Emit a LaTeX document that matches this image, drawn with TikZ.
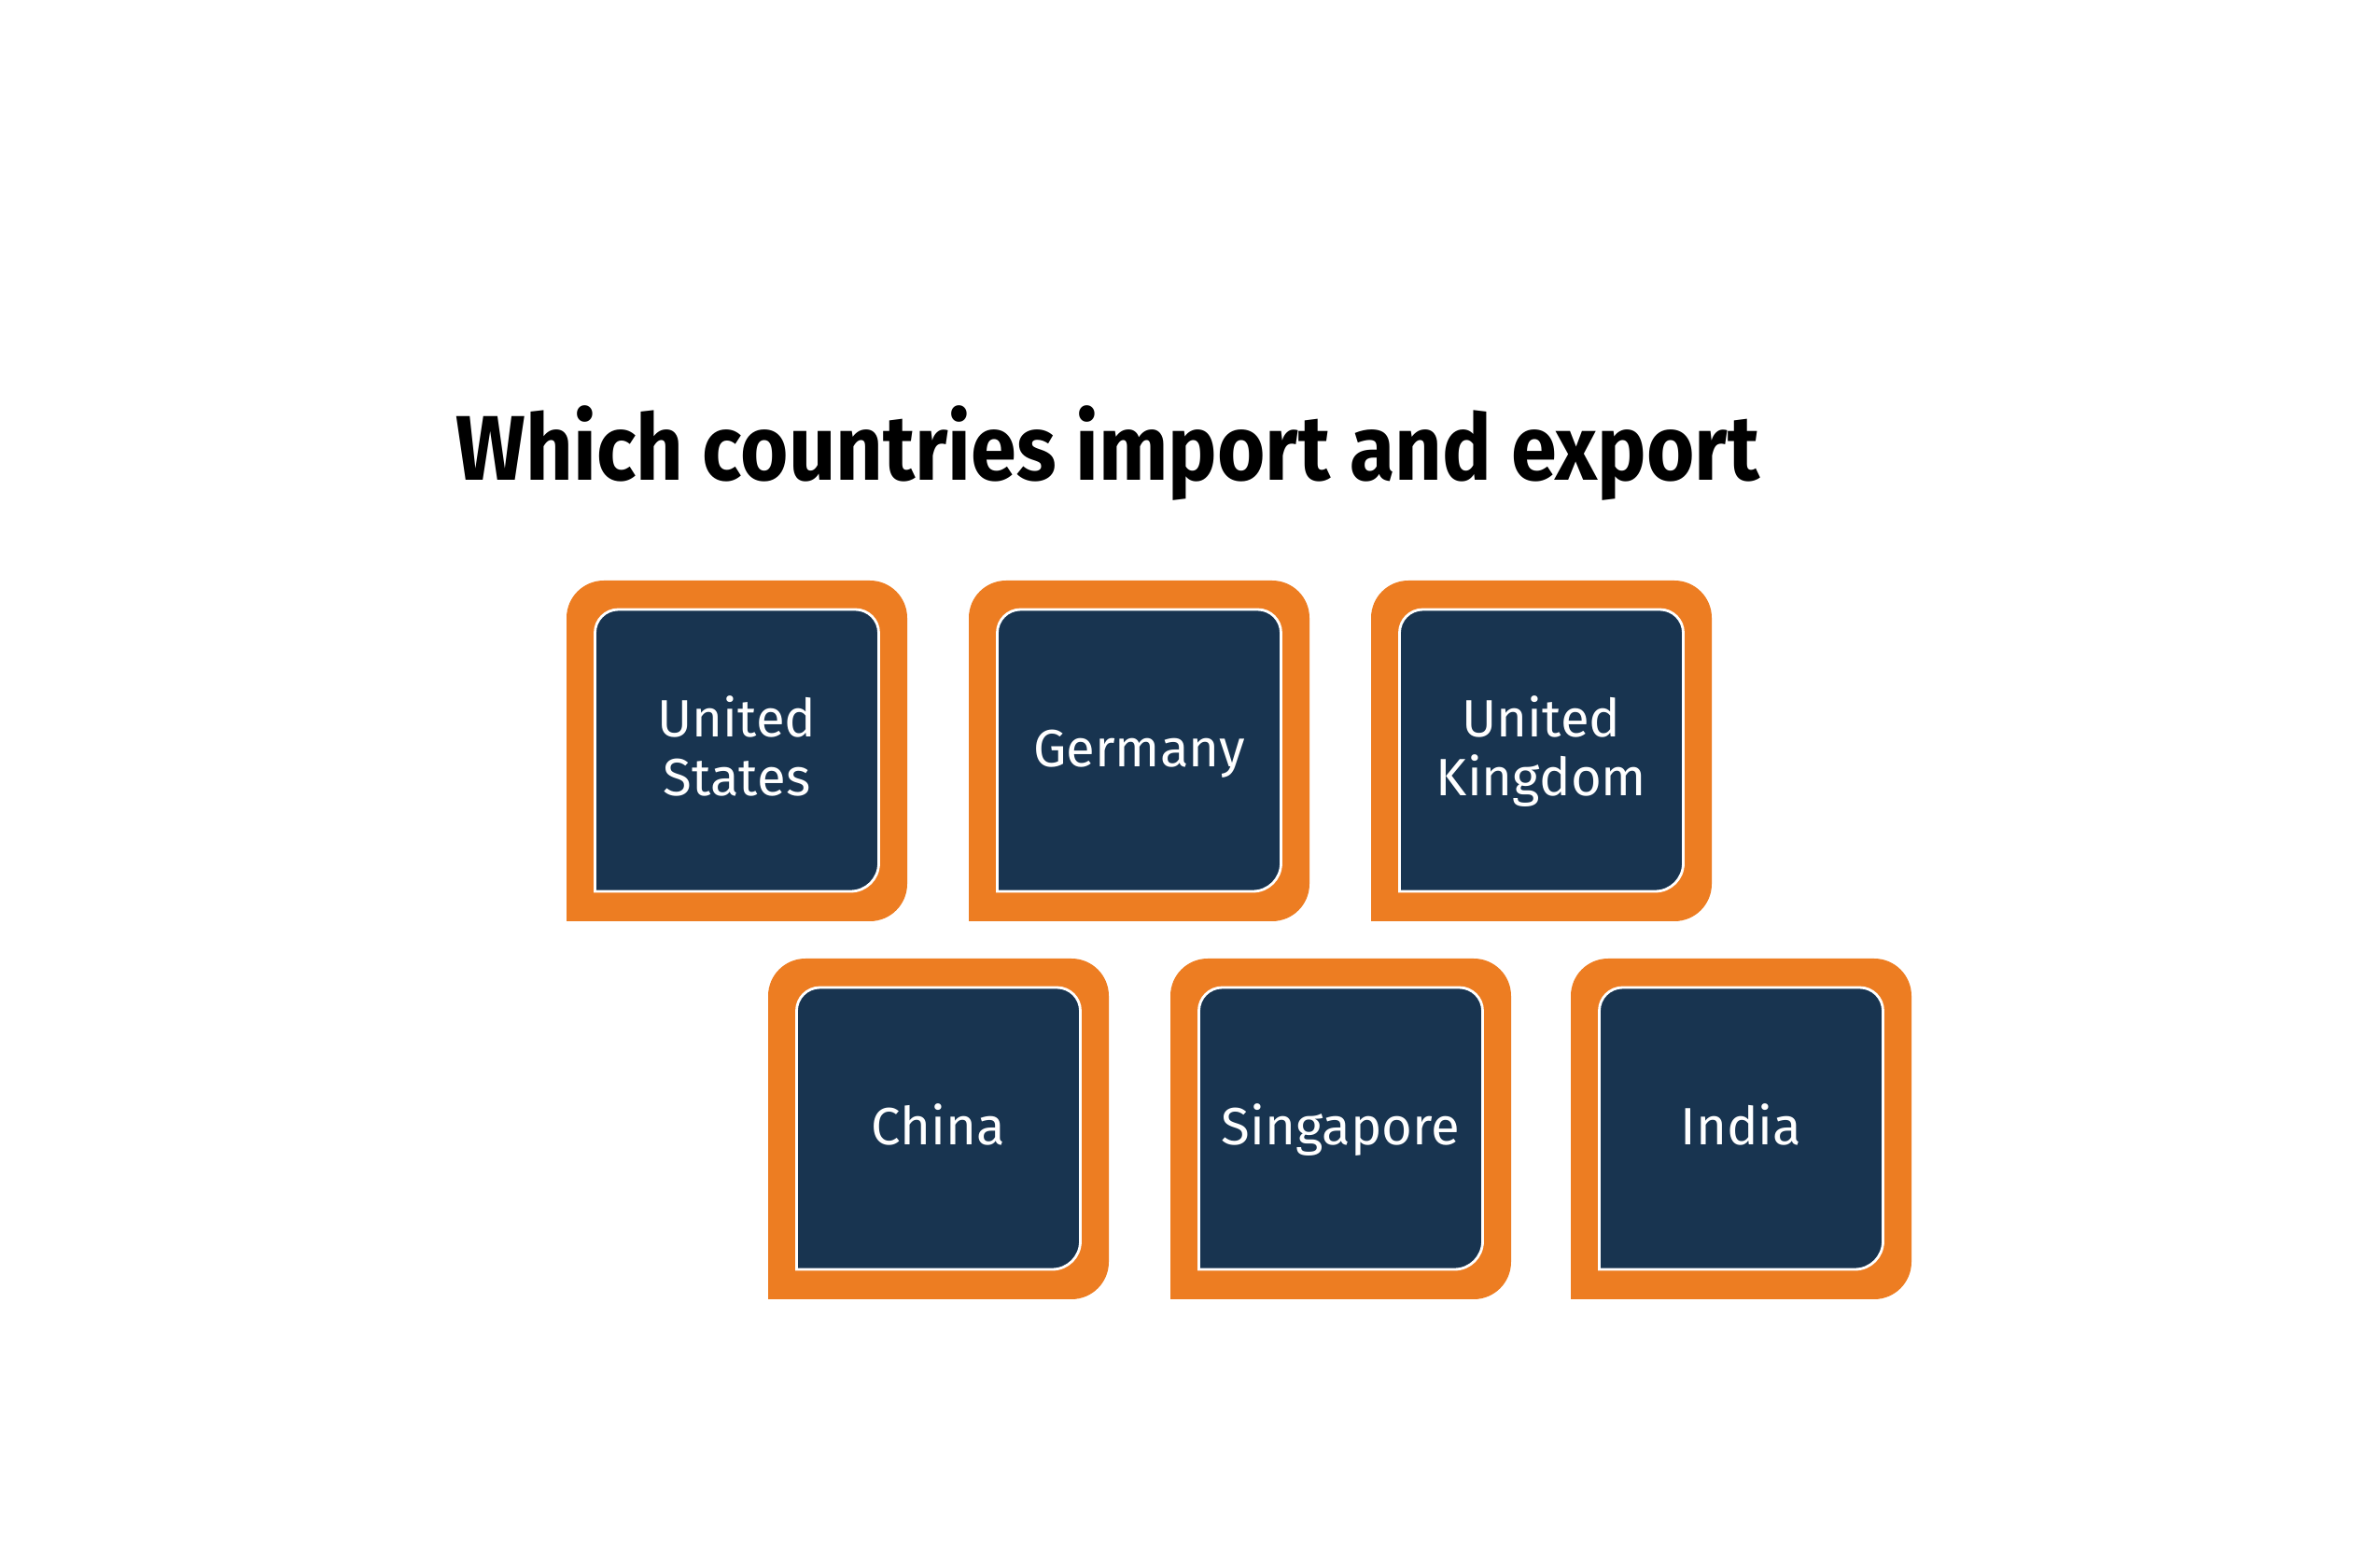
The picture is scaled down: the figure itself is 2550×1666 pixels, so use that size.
\documentclass[tikz,border=0pt]{standalone}
\usepackage{fontspec}
\setmainfont{Fira Sans}
\definecolor{boxorange}{RGB}{237,125,34}
\definecolor{boxnavy}{RGB}{24,52,80}
\tikzset{
  labeltext/.style={text=white,font=\fontsize{16}{17.9}\selectfont,align=center,inner sep=0pt},
  oneline/.style={text height=9.5pt,text depth=0pt},
  twoline/.style={anchor=base,yshift=-0.475cm},
  outerframe/.style={fill=boxorange},
  innerpanel/.style={fill=boxnavy,draw=white,line width=0.8pt},
}
\newcommand\countrybox[5]{%
  \begin{scope}[shift={(#2,#3)}]
    \path[outerframe] (-182.5,-182.5) -- (-182.5,142.5) arc[start angle=180,end angle=90,radius=40]
      -- (142.5,182.5) arc[start angle=90,end angle=0,radius=40]
      -- (182.5,-142.5) arc[start angle=0,end angle=-90,radius=40] -- cycle;
    \path[innerpanel] (-152,-150.5) -- (-152,126.5) arc[start angle=180,end angle=90,radius=25]
      -- (127,151.5) arc[start angle=90,end angle=0,radius=25]
      -- (152,-120.5) arc[start angle=0,end angle=-90,radius=30] -- cycle;
    \node[labeltext,#4] (#1) at (0,0) {#5};
  \end{scope}}
\begin{document}
\begin{tikzpicture}[x=0.01cm,y=0.01cm]
  \fill[white] (0,0) rectangle (2550,1666);
  \useasboundingbox (0,0) rectangle (2550,1666);
  \node[anchor=base west,inner sep=0pt] (title) at (488,1151)
    {\scalebox{0.895}[1]{\fontsize{28}{30}\selectfont\bfseries Which countries import and export}};
  \countrybox{us}{789.5}{861.5}{twoline}{United\\States}
  \countrybox{de}{1220.5}{861.5}{oneline}{Germany}
  \countrybox{uk}{1651.5}{861.5}{twoline}{United\\Kingdom}
  \countrybox{cn}{1005.5}{456.5}{oneline}{China}
  \countrybox{sg}{1436.5}{456.5}{oneline}{Singapore}
  \countrybox{in}{1865.5}{456.5}{oneline}{India}
\end{tikzpicture}
\end{document}
